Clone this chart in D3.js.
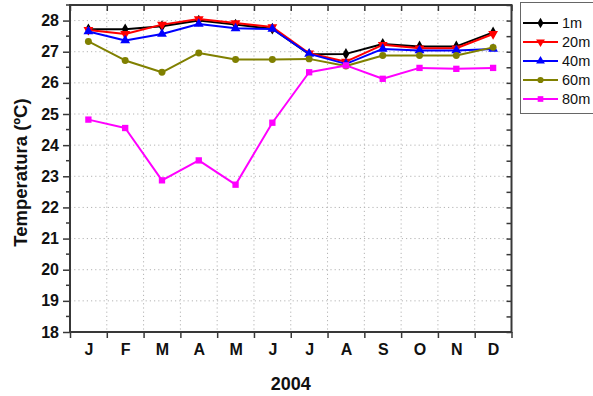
<!DOCTYPE html>
<html>
<head>
<meta charset="utf-8">
<script src="https://cdn.jsdelivr.net/npm/d3@7"></script>
<style>
  html, body { margin: 0; padding: 0; background: #fff; }
  svg { display: block; font-family: "Liberation Sans", Arial, sans-serif; }
</style>
</head>
<body>
<svg id="chart" width="593" height="396"></svg>
<script>
// Monthly mean temperature by depth, 2004
const months = ["J", "F", "M", "A", "M", "J", "J", "A", "S", "O", "N", "D"];
const yTicks = [18, 19, 20, 21, 22, 23, 24, 25, 26, 27, 28];

const depth1m  = [27.72, 27.72, 27.82, 28.00, 27.87, 27.74, 26.92, 26.93, 27.25, 27.17, 27.17, 27.62];
const depth20m = [27.70, 27.57, 27.87, 28.05, 27.92, 27.79, 26.95, 26.68, 27.22, 27.11, 27.11, 27.57];
const depth40m = [27.65, 27.36, 27.57, 27.89, 27.75, 27.73, 26.93, 26.61, 27.09, 27.04, 27.04, 27.09];
const depth60m = [27.33, 26.72, 26.34, 26.96, 26.75, 26.75, 26.77, 26.54, 26.88, 26.88, 26.88, 27.14];
const depth80m = [24.82, 24.55, 22.87, 23.51, 22.73, 24.72, 26.34, 26.56, 26.13, 26.48, 26.45, 26.48];

const seriesNames  = ["1m", "20m", "40m", "60m", "80m"];
const seriesValues = [depth1m, depth20m, depth40m, depth60m, depth80m];
const seriesColors = ["#000000", "#ff0000", "#0000ff", "#808000", "#ff00ff"];
const seriesSymbols = [d3.symbolDiamond, "triDown", d3.symbolTriangle, d3.symbolCircle, d3.symbolSquare];
const symbolSizes = [40, 42, 42, 38, 40];

const svg = d3.select("#chart");
const plotL = 70, plotR = 511.5, plotT = 5, plotB = 332;

const x = d3.scaleLinear().domain([0, 12]).range([plotL, plotR]);
const y = d3.scaleLinear().domain([18, 28.5]).range([plotB, plotT]);
const xc = i => x(i + 0.5);

// dotted grid
const grid = svg.append("g").attr("stroke", "#b4b4b4").attr("stroke-width", 1)
  .attr("stroke-dasharray", "1.2,3");
grid.selectAll("line.h").data(yTicks.filter(v => v > 18)).join("line").attr("class", "h")
  .attr("x1", plotL).attr("x2", plotR)
  .attr("y1", d => y(d)).attr("y2", d => y(d));
grid.selectAll("line.v").data(d3.range(1, 12)).join("line").attr("class", "v")
  .attr("x1", d => x(d)).attr("x2", d => x(d))
  .attr("y1", plotT).attr("y2", plotB);

// axes
const axisColor = "#383838";
const halfTicks = d3.range(18, 28.51, 0.5);

const gLeft = svg.append("g").attr("transform", `translate(${plotL},0)`)
  .call(d3.axisLeft(y).tickValues(yTicks).tickSize(7).tickPadding(4).tickFormat(d3.format("d")));
gLeft.append("g").selectAll("line").data(halfTicks.filter(v => v % 1 !== 0)).join("line")
  .attr("x1", -4).attr("x2", 0).attr("y1", d => y(d)).attr("y2", d => y(d));

const gRight = svg.append("g").attr("transform", `translate(${plotR},0)`)
  .call(d3.axisRight(y).tickValues(halfTicks).tickSize(-5).tickFormat(""));

const gBottom = svg.append("g").attr("transform", `translate(0,${plotB})`)
  .call(d3.axisBottom(x).tickValues(d3.range(0, 13)).tickSize(6).tickFormat(""));
const gMonths = svg.append("g").attr("transform", `translate(0,${plotB})`)
  .call(d3.axisBottom(x)
    .tickValues(d3.range(12).map(i => i + 0.5)).tickSize(0).tickPadding(12)
    .tickFormat(d => months[Math.floor(d)]));

const gTop = svg.append("g").attr("transform", `translate(0,${plotT})`)
  .call(d3.axisTop(x).tickValues(d3.range(0, 13)).tickSize(-6).tickFormat(""));

[gLeft, gRight, gBottom, gMonths, gTop].forEach(g => {
  g.selectAll("path.domain").remove();
  g.selectAll("line").attr("stroke", axisColor).attr("stroke-width", 1.5);
  g.selectAll("text").attr("fill", "#111").attr("font-size", 16).attr("font-weight", "bold")
    .attr("font-family", "Liberation Sans, Arial, sans-serif");
});
gMonths.selectAll("line").remove();

// frame
svg.append("rect").attr("x", plotL).attr("y", plotT)
  .attr("width", plotR - plotL).attr("height", plotB - plotT)
  .attr("fill", "none").attr("stroke", axisColor).attr("stroke-width", 2);

// axis titles
svg.append("text")
  .attr("transform", `translate(27,${(plotT + plotB) / 2 + 4}) rotate(-90)`)
  .attr("text-anchor", "middle").attr("font-size", 18.5).attr("font-weight", "bold").attr("fill", "#111")
  .text("Temperatura (ºC)");
svg.append("text")
  .attr("x", (plotL + plotR) / 2).attr("y", 390)
  .attr("text-anchor", "middle").attr("font-size", 18).attr("font-weight", "bold").attr("fill", "#111")
  .text("2004");

// marker helpers
function markerPath(sym, size) {
  const type = sym === "triDown" ? d3.symbolTriangle : sym;
  return d3.symbol().type(type).size(size)();
}
function markerTransform(sym, px, py) {
  return sym === "triDown" ? `translate(${px},${py}) rotate(180)` : `translate(${px},${py})`;
}

// series lines + markers
const line = d3.line().x((d, i) => xc(i)).y(d => y(d));
seriesValues.forEach((vals, k) => {
  const g = svg.append("g");
  g.append("path").datum(vals).attr("d", line)
    .attr("fill", "none").attr("stroke", seriesColors[k]).attr("stroke-width", 2)
    .attr("stroke-linejoin", "round");
  g.selectAll("path.m").data(vals).join("path").attr("class", "m")
    .attr("d", markerPath(seriesSymbols[k], symbolSizes[k]))
    .attr("transform", (d, i) => markerTransform(seriesSymbols[k], xc(i), y(d)))
    .attr("fill", seriesColors[k]);
});

// legend
const lg = svg.append("g");
lg.append("rect").attr("x", 520.5).attr("y", 2.5).attr("width", 80).attr("height", 111)
  .attr("fill", "#fff").attr("stroke", "#666").attr("stroke-width", 1);
seriesNames.forEach((name, k) => {
  const ly = 23 + k * 19;
  lg.append("line").attr("x1", 523).attr("x2", 558).attr("y1", ly).attr("y2", ly)
    .attr("stroke", seriesColors[k]).attr("stroke-width", 2);
  lg.append("path").attr("d", markerPath(seriesSymbols[k], symbolSizes[k] * 0.8))
    .attr("transform", markerTransform(seriesSymbols[k], 540.5, ly))
    .attr("fill", seriesColors[k]);
  lg.append("text").attr("x", 562).attr("y", ly + 5).attr("font-size", 14.5).attr("fill", "#111")
    .text(name);
});
</script>
</body>
</html>
